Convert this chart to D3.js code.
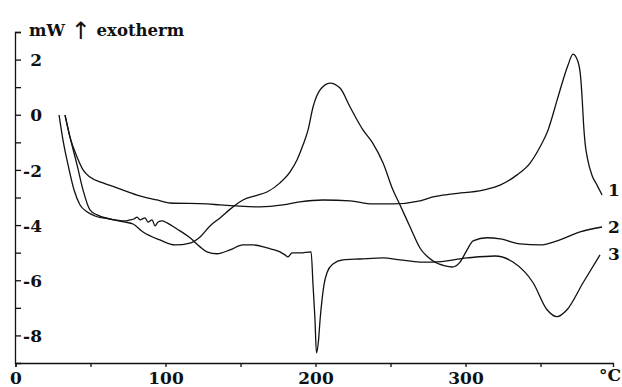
<!DOCTYPE html>
<html>
<head>
<meta charset="utf-8">
<script src="https://cdn.jsdelivr.net/npm/d3@7"></script>
<style>
  body { margin: 0; background: #fff; }
  svg text { font-family: "DejaVu Serif", serif; font-weight: bold; fill: #111; }
</style>
</head>
<body>
<div id="chart"></div>
<script>
// DSC curves, temperature (°C) vs heat flow (mW)
const curve1T = [31.7, 35, 39.7, 43.7, 48.3, 57, 66.3, 79.7, 93, 101.7, 126.3, 135, 161.7, 177, 188.3, 203.7, 221.7, 236.7, 250.3, 268.3, 277, 290.3, 310.3, 321.7, 333, 341.7, 348.3, 353.7, 359.7, 363.7, 367, 370.3, 373.7, 375.5, 376.5, 377.3, 378.3, 380, 383, 386.3, 389.7];
const curve1V = [-0.01, -0.81, -1.53, -2.0, -2.26, -2.47, -2.65, -2.91, -3.09, -3.2, -3.23, -3.27, -3.34, -3.27, -3.16, -3.09, -3.12, -3.23, -3.23, -3.12, -2.98, -2.87, -2.73, -2.55, -2.18, -1.75, -1.17, -0.55, 0.53, 1.26, 1.8, 2.2, 1.91, 1.3, 0.5, -0.3, -1.0, -1.6, -2.2, -2.55, -2.91];

const curve2T = [31.7, 35, 39.7, 43.7, 48.3, 53, 61.7, 71.7, 77, 83.7, 95, 105, 115, 121.7, 128.3, 135, 143.7, 150.3, 158.3, 166.3, 175, 181.7, 186.3, 190.3, 193.7, 197, 201.7, 208.3, 215, 221.7, 230.3, 236.7, 243.7, 250.3, 255, 261.7, 268.3, 277, 285, 289.7, 295, 299.7, 303.7, 313, 321.7, 335, 348.3, 359.7, 375, 389.7];
const curve2V = [-0.01, -0.81, -1.82, -2.73, -3.45, -3.63, -3.78, -3.89, -3.96, -4.25, -4.54, -4.72, -4.65, -4.43, -4.03, -3.74, -3.34, -3.09, -2.94, -2.8, -2.47, -2.07, -1.64, -1.1, -0.55, 0.28, 0.9, 1.15, 0.97, 0.28, -0.55, -1.02, -1.75, -2.73, -3.27, -4.07, -4.83, -5.3, -5.48, -5.52, -5.34, -4.9, -4.57, -4.46, -4.5, -4.68, -4.72, -4.57, -4.25, -4.07];

const curve3T = [27.7, 30.3, 33.7, 37.7, 41.7, 46.3, 51.7, 61.7, 71.7, 75, 77.7, 79.7, 81.7, 85, 87, 89.7, 91.7, 93.7, 96.3, 99.7, 106.3, 115, 121.7, 126.3, 133, 141.7, 150.3, 157, 166.3, 175, 178.3, 180.3, 183, 188.3, 195.7, 197, 198.3, 199.3, 200.7, 201.7, 203, 204.3, 206.3, 210.3, 217, 228.3, 243.7, 255, 268.3, 277, 299.7, 318.3, 330.3, 343.7, 353, 359.7, 366.3, 377, 388.3];
const curve3V = [-0.01, -0.91, -1.82, -2.73, -3.27, -3.52, -3.67, -3.78, -3.85, -3.81, -3.78, -3.71, -3.81, -3.74, -3.89, -3.81, -4.03, -3.89, -3.85, -3.92, -4.14, -4.46, -4.79, -4.97, -5.04, -4.9, -4.72, -4.72, -4.83, -4.97, -5.08, -5.15, -5.01, -5.01, -4.97, -6.17, -7.43, -8.63, -8.16, -7.43, -6.71, -6.17, -5.73, -5.41, -5.26, -5.23, -5.19, -5.26, -5.34, -5.34, -5.19, -5.12, -5.34, -6.09, -7.07, -7.32, -7.07, -6.09, -5.08];

const curveNames = ["1", "2", "3"];
const xTicks = [0, 50, 100, 150, 200, 250, 300, 350];
const xLabels = [0, 100, 200, 300];
const yTicks = [3, 2, 1, 0, -1, -2, -3, -4, -5, -6, -7, -8];
const yLabels = [2, 0, -2, -4, -6, -8];

const width = 622, height = 387;

const x = d3.scaleLinear().domain([0, 398.3]).range([17.5, 615]);
const y = d3.scaleLinear().domain([-9, 3]).range([363, 32]);

const svg = d3.select("#chart").append("svg")
  .attr("width", width)
  .attr("height", height);

// y axis, ticks pointing inward
const yAxis = svg.append("g")
  .attr("transform", "translate(15,0)")
  .call(d3.axisRight(y).tickValues(yTicks).tickSize(6).tickSizeOuter(6)
    .tickFormat(d => yLabels.includes(d) ? String(d) : ""));
yAxis.selectAll("text")
  .attr("x", 27).attr("dy", "0.36em")
  .style("text-anchor", "end").style("font-size", "17px");

// x axis
const xAxis = svg.append("g")
  .attr("transform", "translate(-2,363)")
  .call(d3.axisBottom(x).tickValues(xTicks).tickSize(4).tickSizeOuter(4)
    .tickFormat(d => xLabels.includes(d) ? String(d) : ""));
xAxis.selectAll("text")
  .attr("y", 21).attr("dy", 0)
  .style("font-size", "17px");

svg.selectAll(".domain, .tick line")
  .attr("stroke", "#111").attr("stroke-width", 1.3);
svg.selectAll(".tick text").style("fill", "#111").style("font-family", "DejaVu Serif, serif").style("font-weight", "bold");

svg.append("text").attr("x", 621).attr("y", 381)
  .attr("text-anchor", "end").style("font-size", "17px").text("°C");

// y unit label
const title = svg.append("text").attr("x", 29).attr("y", 36).style("font-size", "16.5px");
title.append("tspan").text("mW ");
title.append("tspan").style("font-weight", "normal").style("font-family", "DejaVu Sans, sans-serif")
  .style("font-size", "24px").attr("dy", 3).text("↑");
title.append("tspan").attr("dy", -3).text(" exotherm");

// curves
const series = [
  curve1T.map((t, i) => [t, curve1V[i]]),
  curve2T.map((t, i) => [t, curve2V[i]]),
  curve3T.map((t, i) => [t, curve3V[i]])
];

const line = d3.line()
  .x(d => x(d[0]))
  .y(d => y(d[1]))
  .curve(d3.curveMonotoneX);

svg.selectAll(".curve")
  .data(series)
  .enter().append("path")
  .attr("class", "curve")
  .attr("d", line)
  .attr("fill", "none")
  .attr("stroke", "#111")
  .attr("stroke-width", 1.3);

// curve labels at right end
svg.selectAll(".curve-label")
  .data(series)
  .enter().append("text")
  .attr("class", "curve-label")
  .attr("x", 608)
  .attr("y", (d, i) => y(d[d.length - 1][1]) + [1, 6, 5][i])
  .style("font-size", "17px")
  .text((d, i) => curveNames[i]);
</script>
</body>
</html>
